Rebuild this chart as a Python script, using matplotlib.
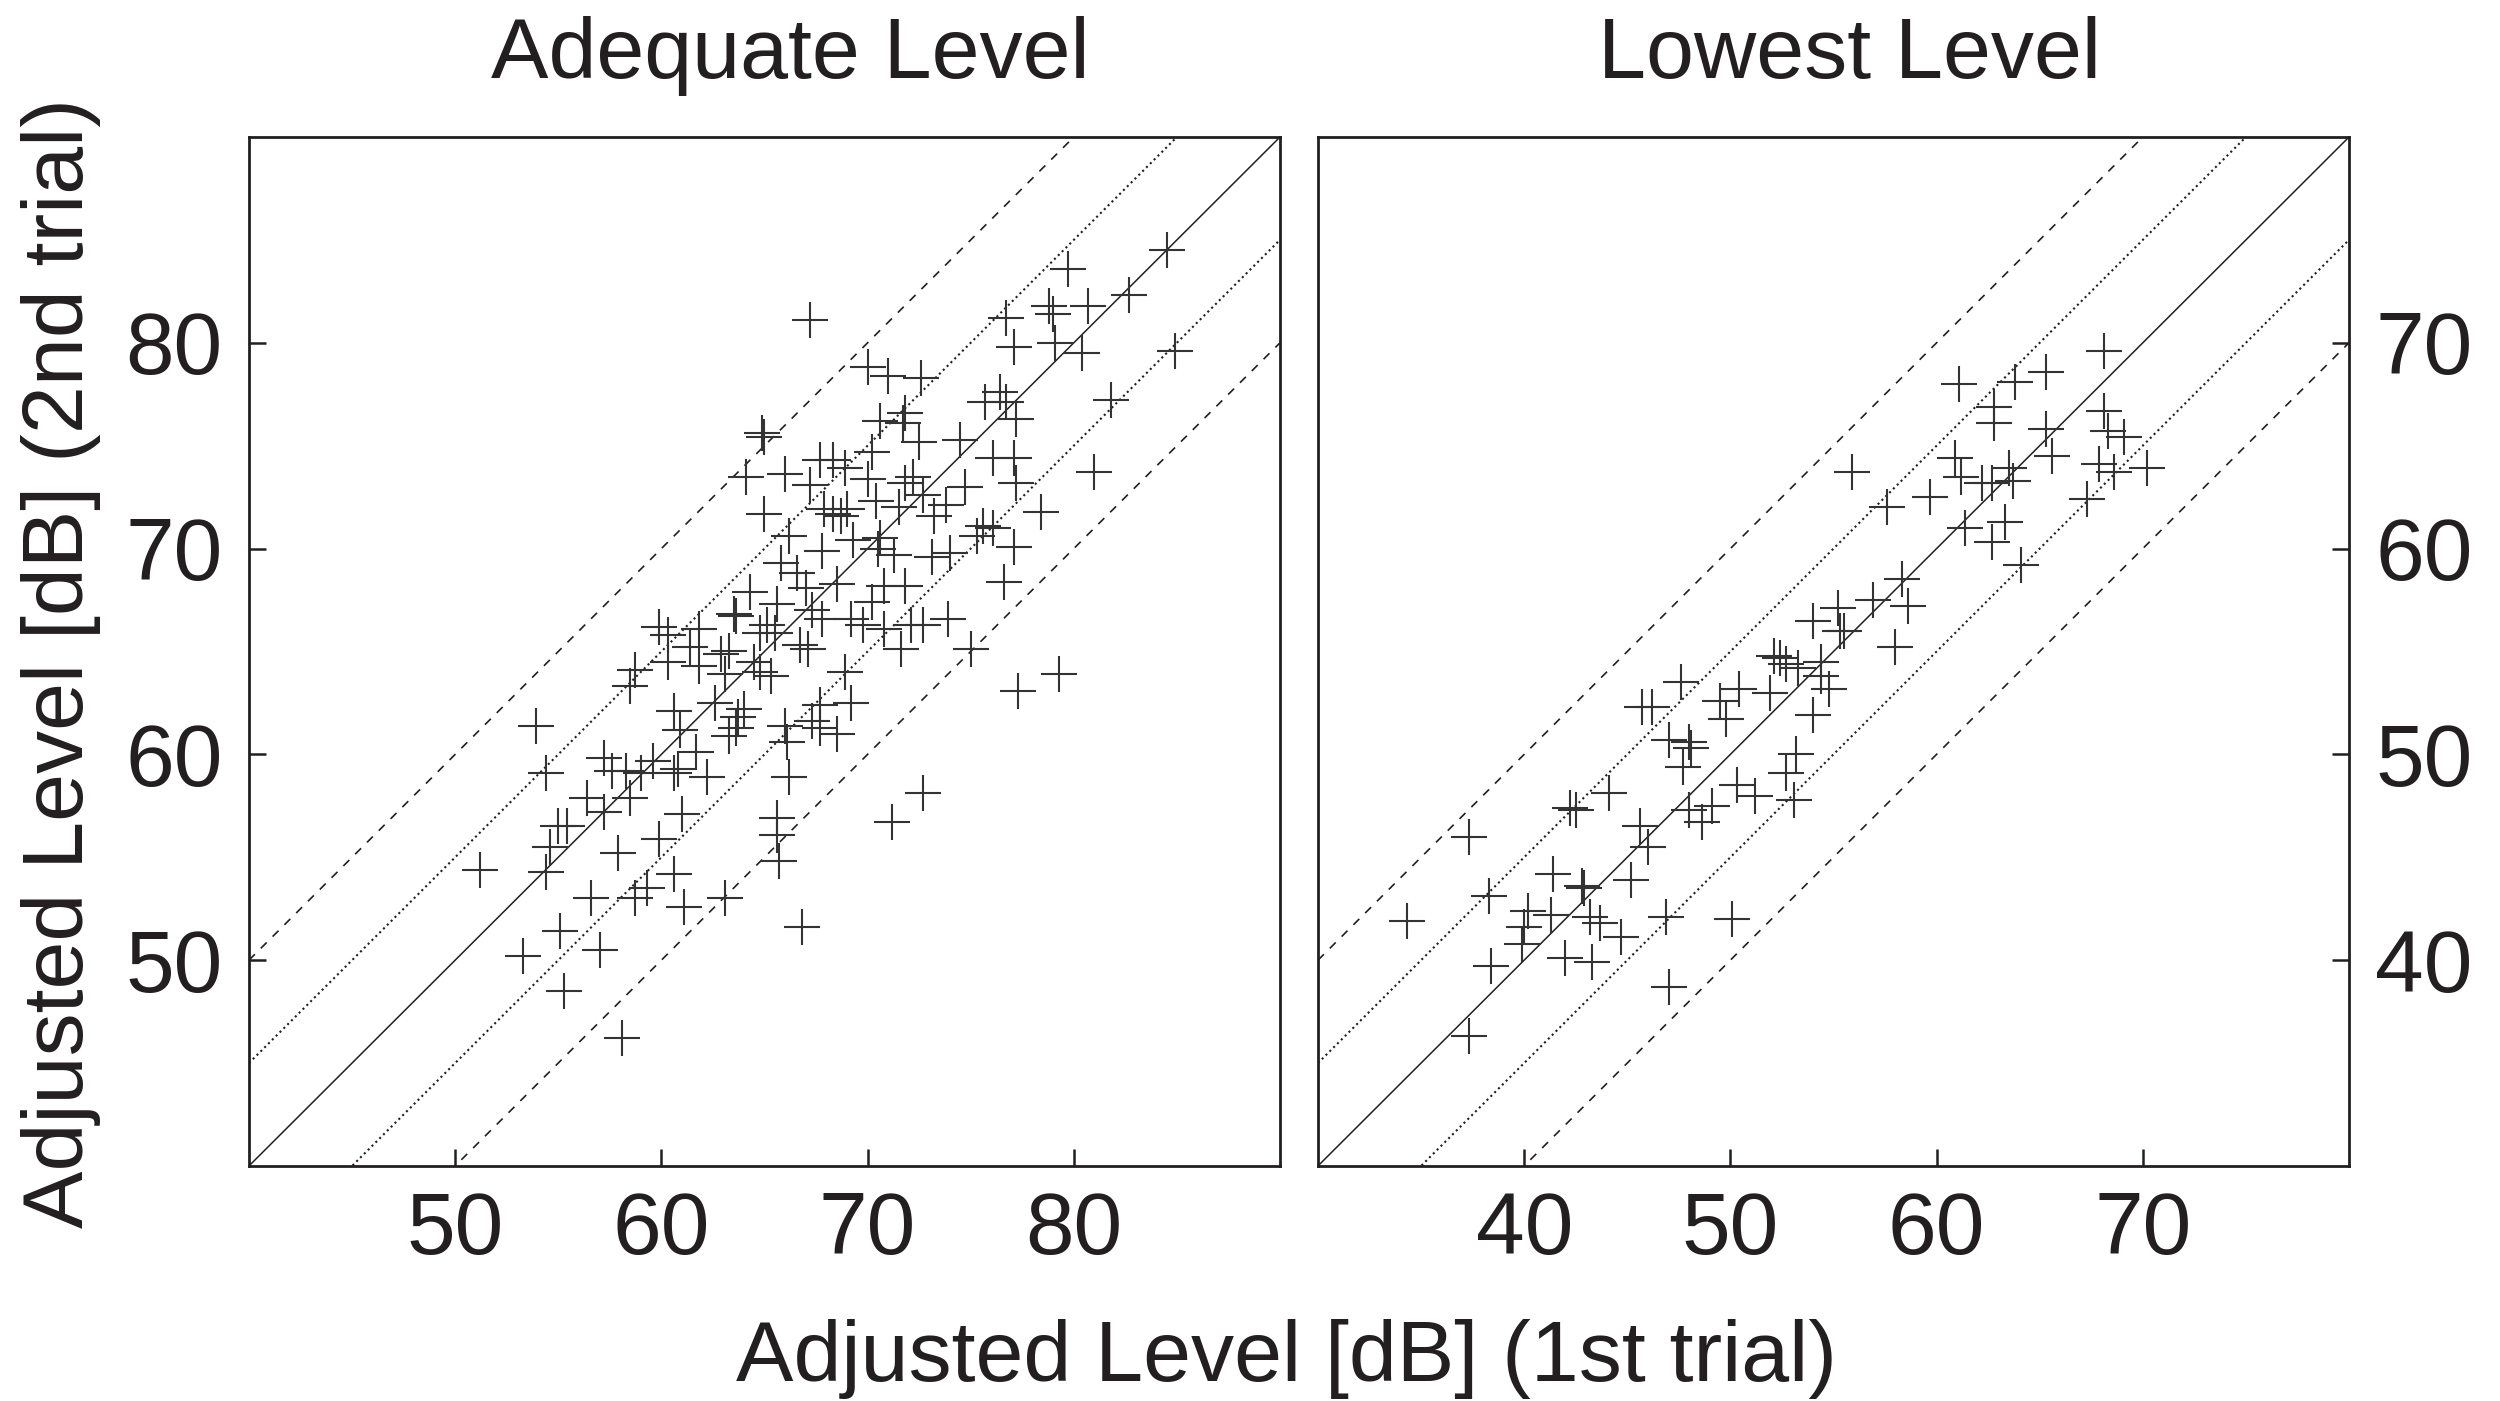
import numpy as np
import matplotlib
matplotlib.use("Agg")
from matplotlib import pyplot as plt

plt.rcParams['font.family'] = ['Liberation Sans', 'DejaVu Sans']

# Adequate level: 1st trial vs 2nd trial [dB]
adequate_x = [67.2, 64.9, 65.0, 64.1, 66.0, 67.2, 67.7, 65.0, 66.2, 65.8, 66.6, 67.9, 67.8, 64.3, 63.5, 63.6,
              65.6, 67.0, 67.3, 67.8, 65.1, 64.8, 65.5, 66.7, 67.1, 59.9, 60.3, 61.8, 61.4, 62.9, 63.3,
              84.5, 79.7, 82.7, 80.7, 78.8, 79.0, 76.7, 77.1, 79.1, 80.4, 84.9, 70.0, 71.0, 72.6, 81.8, 76.4,
              75.7, 76.7, 77.2, 70.6, 71.8, 71.7, 72.5, 74.5, 70.2, 76.1, 77.1, 81.0, 77.2, 74.7, 73.8, 78.4,
              70.0, 68.3, 68.9, 72.2, 71.8, 72.7, 73.2, 71.5, 70.4, 68.3, 68.7, 69.0, 69.3, 68.5, 70.6, 70.5,
              71.3, 73.1, 74.0, 75.6, 75.3, 76.1, 77.1, 76.6, 71.8, 70.8, 70.2, 73.9, 72.7, 72.1, 69.8, 69.2,
              70.8, 58.7, 58.5, 60.3, 61.8, 63.1, 64.5, 64.8, 65.3, 62.6, 60.6, 60.9, 64.0, 63.7, 63.6, 63.3,
              66.0, 66.1, 67.7, 67.3, 67.7, 68.5, 66.2, 57.2, 57.6, 58.3, 59.6, 59.0, 60.8, 60.6, 61.7, 62.2,
              56.4, 57.2, 58.5, 61.0, 59.9, 57.9, 55.0, 55.4, 54.6, 54.4, 54.4, 53.9, 51.2, 60.6, 59.3, 58.7,
              56.6, 61.1, 63.1, 55.1, 53.3, 57.0, 55.3, 58.1, 65.6, 65.6, 65.7, 66.8, 68.9, 69.2, 71.6, 75.0,
              77.3, 79.3, 72.7, 71.2]
adequate_y = [81.1, 75.6, 75.4, 73.5, 73.6, 73.1, 74.3, 71.7, 70.6, 69.3, 68.8, 71.9, 69.9, 67.9, 66.8, 66.7,
              67.3, 68.1, 67.0, 66.6, 66.3, 65.9, 65.9, 65.3, 65.1, 66.2, 65.8, 66.1, 65.2, 64.9, 65.0,
              84.5, 83.6, 82.3, 81.8, 81.8, 81.4, 81.2, 79.8, 80.0, 79.5, 79.6, 78.8, 78.4, 78.3, 77.2, 77.6,
              77.1, 77.1, 76.3, 76.2, 76.6, 76.1, 75.2, 75.3, 74.7, 74.4, 74.4, 73.7, 73.2, 73.0, 72.1, 71.8,
              73.4, 74.3, 73.9, 73.5, 73.2, 72.6, 71.6, 72.0, 72.3, 71.7, 71.6, 71.9, 70.4, 68.3, 70.5, 70.0,
              69.7, 69.6, 69.8, 71.1, 70.6, 71.0, 70.1, 68.4, 68.2, 68.2, 67.4, 66.6, 66.3, 66.3, 66.3, 66.6,
              66.1, 64.1, 63.3, 64.5, 64.3, 63.9, 64.5, 64.0, 63.8, 62.5, 62.1, 61.2, 62.2, 61.8, 61.3, 60.9,
              61.4, 60.6, 62.4, 61.6, 61.3, 61.0, 58.9, 59.8, 59.2, 59.2, 59.7, 59.1, 59.3, 59.1, 60.1, 58.9,
              57.9, 57.2, 57.9, 57.1, 55.9, 55.2, 56.5, 56.5, 55.5, 54.3, 59.1, 61.4, 54.4, 54.2, 53.5, 53.0,
              53.0, 52.6, 53.0, 51.4, 50.2, 50.5, 48.5, 46.2, 56.9, 56.1, 54.8, 51.6, 64.0, 62.5, 65.1, 65.1,
              63.1, 63.9, 58.1, 56.7]

# Lowest level: 1st trial vs 2nd trial [dB]
lowest_x = [34.3, 37.3, 37.3, 38.3, 38.4, 40.2, 41.3, 40.0, 39.9, 41.4, 42.8, 42.9, 42.0, 43.3, 43.2, 43.7,
            44.7, 45.2, 42.2, 42.5, 44.1, 45.6, 46.0, 46.9, 47.0, 50.1, 45.7, 46.2, 47.6, 47.0, 48.0, 48.1,
            47.7, 49.5, 49.8, 50.4, 51.9, 50.3, 51.2, 48.0, 49.1, 48.6, 52.7, 53.2, 53.1,
            55.9, 57.6, 59.7, 60.9, 61.2, 62.2, 62.7, 63.5, 63.7, 65.3, 65.6, 67.9, 68.6, 67.3, 61.4, 63.3,
            62.7, 64.1, 58.3, 56.9, 58.6, 58.0, 55.2, 55.3, 55.5, 54.0, 54.4, 54.4, 54.8, 52.1, 52.4, 52.7,
            53.3, 54.0, 68.1, 65.3, 63.8, 61.1, 62.8, 62.8, 68.1, 68.3, 69.1, 70.2]
lowest_y = [41.9, 46.0, 36.3, 43.1, 39.7, 42.4, 42.2, 41.6, 40.8, 44.2, 43.6, 43.5, 40.1, 39.9, 42.1, 41.8,
            41.1, 43.9, 47.4, 47.3, 48.1, 46.5, 45.5, 42.1, 38.7, 42.0, 52.3, 52.3, 53.5, 50.7, 50.6, 50.3,
            49.4, 52.6, 51.7, 53.2, 53.0, 48.5, 48.0, 47.3, 47.5, 46.7, 49.1, 50.0, 47.8,
            63.7, 62.0, 62.5, 64.4, 63.5, 63.2, 63.2, 63.9, 63.3, 65.8, 64.5, 64.1, 63.7, 62.4, 61.0, 61.3,
            60.3, 59.2, 58.5, 57.5, 57.2, 55.2, 57.1, 56.0, 56.0, 56.5, 54.5, 53.8, 53.2, 54.8, 54.7, 54.4,
            54.2, 51.9, 69.6, 68.6, 68.1, 68.0, 66.9, 66.1, 66.7, 65.7, 65.4, 63.9]

ink = '#231f20'

fig = plt.figure(figsize=(25, 14.01), dpi=100)
ax1 = fig.add_axes([0.0996, 0.1678, 0.4124, 0.7344])
ax2 = fig.add_axes([0.5272, 0.1678, 0.4124, 0.7344])


def panel(ax, xs, ys, lo, hi, ticks):
    d = np.array([lo, hi])
    ax.plot(d, d, color=ink, lw=1.1)
    for off in (5, -5):
        ax.plot(d, d + off, color=ink, lw=1.5, ls=(0, (1, 1.6)))
    for off in (10, -10):
        ax.plot(d, d + off, color=ink, lw=1.2, ls=(0, (5, 5)))
    ax.plot(xs, ys, ls='none', marker='+', ms=26, mew=1.5, color='#333333')
    ax.set_xlim(lo, hi)
    ax.set_ylim(lo, hi)
    ax.set_xticks(ticks)
    ax.set_yticks(ticks)
    for s in ax.spines.values():
        s.set_linewidth(2.0)
        s.set_color(ink)
    ax.tick_params(direction='in', length=12, width=1.8, color=ink,
                   labelsize=63, labelcolor=ink)
    ax.tick_params(axis='x', pad=18)
    ax.tick_params(axis='y', pad=19)


panel(ax1, adequate_x, adequate_y, 40, 90, [50, 60, 70, 80])
panel(ax2, lowest_x, lowest_y, 30, 80, [40, 50, 60, 70])
ax2.yaxis.tick_right()

fig.text(0.316, 0.944, 'Adequate Level', ha='center', va='baseline', fontsize=62, color=ink)
fig.text(0.740, 0.944, 'Lowest Level', ha='center', va='baseline', fontsize=62, color=ink)
fig.text(0.5144, 0.0146, 'Adjusted Level [dB] (1st trial)', ha='center', va='baseline',
         fontsize=62, color=ink)
fig.text(0.0244, 0.527, 'Adjusted Level [dB] (2nd trial)', ha='center', va='center',
         rotation=90, fontsize=62, color=ink)

fig.savefig('out.png', dpi=100)
